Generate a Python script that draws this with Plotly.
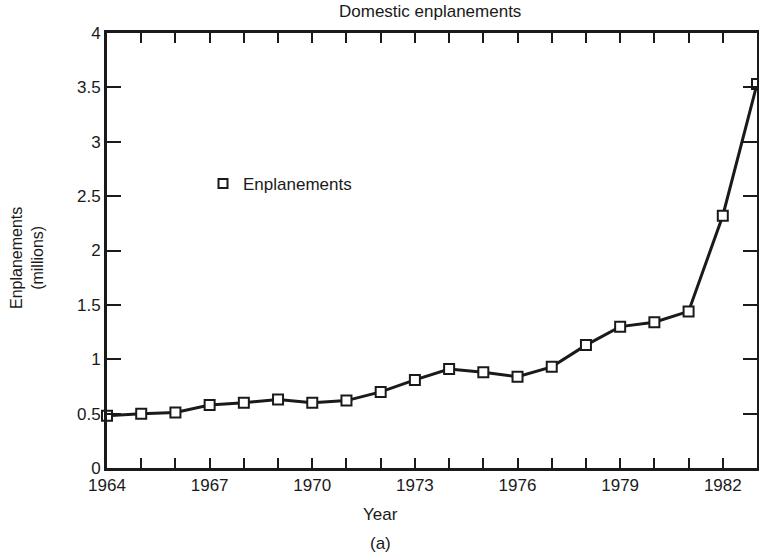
import plotly.graph_objects as go

years = list(range(1964, 1984))
enplanements = [0.48, 0.50, 0.51, 0.58, 0.60, 0.63, 0.60, 0.62, 0.70, 0.81,
                0.91, 0.88, 0.84, 0.93, 1.13, 1.30, 1.34, 1.44, 2.32, 3.53]
x_tick_vals = years
x_tick_text = [str(y) if (y - 1964) % 3 == 0 else "" for y in years]
y_tick_vals = [0, 0.5, 1, 1.5, 2, 2.5, 3, 3.5, 4]
y_tick_text = ["0", "0.5", "1", "1.5", "2", "2.5", "3", "3.5", "4"]

FONT = "Liberation Sans, Arial, sans-serif"
INK = "#1a1a1a"

# plot area in pixels
L, R, T, B = 107, 757, 33, 468
PW, PH = R - L, B - T

fig = go.Figure()
fig.add_trace(go.Scatter(
    x=years, y=enplanements, mode="lines+markers",
    line=dict(color=INK, width=3),
    marker=dict(symbol="square", size=10, color="white",
                line=dict(color=INK, width=2)),
    cliponaxis=False, showlegend=False, name="Enplanements"))
fig.add_trace(go.Scatter(
    x=[None], y=[None], mode="markers", name="Enplanements",
    marker=dict(symbol="square", size=9, color="white",
                line=dict(color=INK, width=2)),
    showlegend=True))

fig.update_layout(
    width=759, height=557,
    margin=dict(l=L, r=759 - R, t=T, b=557 - B, autoexpand=False),
    paper_bgcolor="white", plot_bgcolor="white",
    font=dict(family=FONT, size=17, color=INK),
    showlegend=True,
    legend=dict(x=(203 - L) / PW, y=(B - 166) / PH, xanchor="left", yanchor="top",
                bgcolor="rgba(0,0,0,0)", font=dict(size=17),
                itemwidth=30, tracegroupgap=0),
    xaxis=dict(range=[1964, 1983], tickmode="array", tickvals=x_tick_vals,
               ticktext=x_tick_text, ticks="inside", ticklen=10, tickwidth=2,
               tickcolor=INK, showline=True, linewidth=3,
               linecolor=INK, mirror="ticks", showgrid=False,
               zeroline=False, tickfont=dict(size=17)),
    yaxis=dict(range=[0, 4], tickmode="array", tickvals=y_tick_vals,
               ticktext=y_tick_text, ticks="inside", ticklen=14, tickwidth=2,
               tickcolor=INK, showline=True, linewidth=3,
               linecolor=INK, mirror="ticks", showgrid=False,
               zeroline=False, tickfont=dict(size=17)),
    annotations=[
        dict(text="Domestic enplanements", x=(430 - L) / PW, y=1 + (T - 12) / PH,
             xref="paper", yref="paper", showarrow=False, yanchor="middle",
             font=dict(size=17)),
        dict(text="Year", x=(380 - L) / PW, y=-(514 - B) / PH, xref="paper",
             yref="paper", showarrow=False, yanchor="middle", font=dict(size=17)),
        dict(text="(a)", x=(380 - L) / PW, y=-(543 - B) / PH, xref="paper",
             yref="paper", showarrow=False, yanchor="middle", font=dict(size=17)),
        dict(text="Enplanements<br>(millions)", x=-(L - 27) / PW, y=(B - 258) / PH,
             xref="paper", yref="paper", showarrow=False, textangle=-90,
             xanchor="center", yanchor="middle", font=dict(size=16)),
    ],
)

fig.write_html("out.html", config={"displayModeBar": False},
               post_script="document.body.style.margin='0';document.body.style.overflow='hidden';")
